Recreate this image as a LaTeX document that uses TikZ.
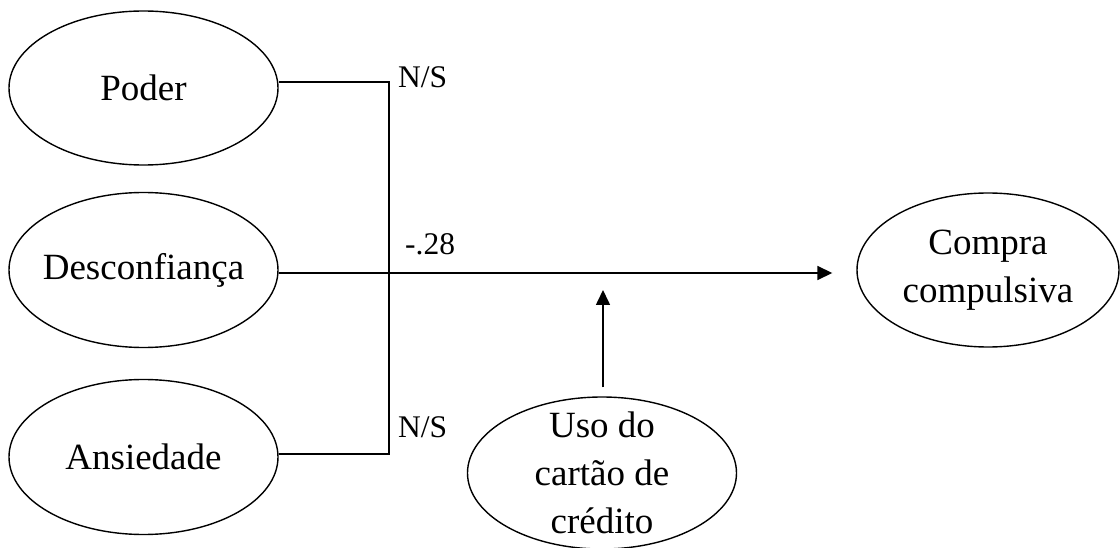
\documentclass[tikz,border=0pt]{standalone}
\usepackage{fontspec}
\setmainfont{Liberation Serif}
\usetikzlibrary{shapes.geometric,arrows.meta}
\tikzset{
  construct/.style={draw, ellipse, line width=1.4pt, inner sep=-30pt, align=center,
    font=\fontsize{37}{48}\selectfont},
  path/.style={line width=1.6pt},
  arrowpath/.style={line width=1.6pt, -{Triangle[length=15pt,width=14pt]}},
  coef/.style={font=\fontsize{31.5}{36}\selectfont, inner sep=0pt, anchor=base west}
}
\begin{document}
\begin{tikzpicture}[x=1pt,y=-1pt]
\useasboundingbox (0,0) rectangle (1120,548);

% constructs
\node[construct, minimum width=269pt, minimum height=154pt] (poder) at (143.5,88) {Poder};
\node[construct, minimum width=269pt, minimum height=155pt] (desc) at (143.5,270) {Desconfiança};
\node[construct, minimum width=269pt, minimum height=155pt] (ans) at (143.5,457) {Ansiedade};
\node[construct, minimum width=262pt, minimum height=154pt] (compra) at (988,270) {Compra\\compulsiva};
\node[construct, minimum width=269pt, minimum height=152pt] (uso) at (602,473) {Uso do\\cartão de\\crédito};

% junction points of the paths
\coordinate (top) at (389,82);
\coordinate (bot) at (389,454);
\coordinate (mid) at (0,273);
\coordinate (mod) at (603,273);

% bracket joining Poder and Ansiedade
\draw[path] (poder.east |- top) -- (top) -- (bot) -- (ans.east |- bot);

% main effect
\draw[arrowpath, shorten >=24pt] (desc.east |- mid) -- (compra.west |- mid);

% moderation
\draw[arrowpath, shorten <=9pt, shorten >=17pt] (uso.north -| mod) -- (mod);

% coefficients
\node[coef] (c1) at (398,88) {N/S};
\node[coef] (c2) at (405,255) {-.28};
\node[coef] (c3) at (398,437) {N/S};
\end{tikzpicture}
\end{document}
